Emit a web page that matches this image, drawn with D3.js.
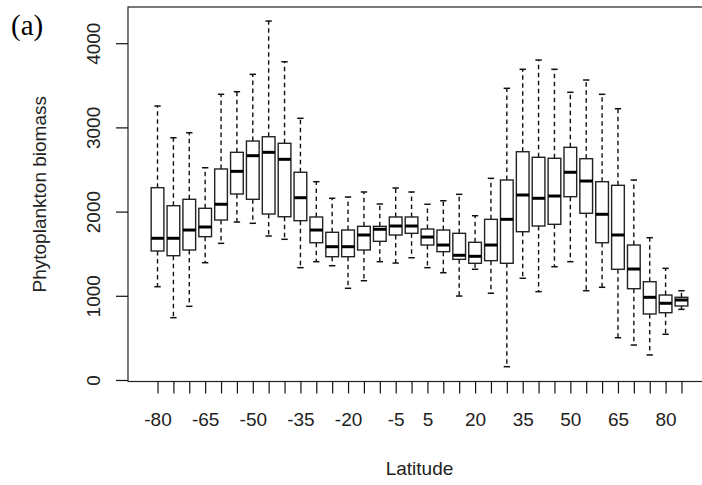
<!DOCTYPE html>
<html>
<head>
<meta charset="utf-8">
<script src="https://cdn.jsdelivr.net/npm/d3@7"></script>
<style>
  html, body { margin: 0; padding: 0; background: #fff; }
  svg { display: block; }
</style>
</head>
<body>
<script>
// ---- data ----
const latitudes = [-80,-75,-70,-65,-60,-55,-50,-45,-40,-35,-30,-25,-20,-15,-10,-5,0,5,10,15,20,25,30,35,40,45,50,55,60,65,70,75,80,85];
const whiskerHigh = [3254,2877,2937,2521,3393,3424,3630,4263,3780,3108,2355,2158,2173,2233,2090,2280,2233,2087,2129,2205,1951,2395,3464,3690,3800,3690,3417,3563,3393,3222,2375,1690,1326,1060];
const quartile3 = [2284,2070,2146,2039,2506,2704,2838,2889,2811,2467,1936,1754,1781,1825,1825,1936,1936,1793,1781,1742,1635,1908,2375,2711,2645,2633,2763,2628,2355,2312,1603,1167,1009,982];
const medians = [1683,1683,1781,1817,2087,2478,2664,2704,2621,2165,1781,1583,1583,1722,1790,1829,1829,1698,1603,1481,1469,1603,1908,2197,2158,2185,2467,2363,1968,1722,1318,982,911,950];
const quartile1 = [1532,1476,1544,1702,1900,2209,2146,1971,1939,1892,1630,1464,1464,1544,1647,1722,1742,1603,1524,1433,1386,1417,1386,1761,1829,1849,2177,1980,1630,1315,1084,784,799,879];
const whiskerLow = [1108,740,875,1393,1623,1876,1861,1710,1671,1334,1405,1357,1089,1179,1405,1389,1452,1334,1274,997,1315,1030,158,1208,1049,1345,1405,1060,1101,502,415,297,543,839];
const xTickLabels = ["-80","-65","-50","-35","-20","-5","5","20","35","50","65","80"];
const yTicks = [0,1000,2000,3000,4000];
const yDomain = [-18, 4430];

const W = 702, H = 485;
const plot = {left:128, right:711, top:7, bottom:381.5};

const svg = d3.select("body").append("svg").attr("width", W).attr("height", H);

const x = d3.scalePoint().domain(latitudes).range([plot.left, plot.right]).padding(1.86);
const y = d3.scaleLinear().domain(yDomain).range([plot.bottom, plot.top]);

const step = x.step();
const boxW = step * 0.8;
const capW = boxW * 0.5;
const font = "'Liberation Sans', Arial, sans-serif";

// frame
svg.append("rect")
  .attr("x", plot.left).attr("y", plot.top)
  .attr("width", plot.right - plot.left).attr("height", plot.bottom - plot.top)
  .attr("fill", "none").attr("stroke", "#222").attr("stroke-width", 1.2);

// boxes
const data = latitudes.map((lat, i) => ({
  lat, lo: whiskerLow[i], q1: quartile1[i], med: medians[i], q3: quartile3[i], hi: whiskerHigh[i]
}));

const g = svg.append("g");
const b = g.selectAll("g.box").data(data).join("g").attr("class", "box");

// dashed whiskers
b.append("line")
  .attr("x1", d => x(d.lat)).attr("x2", d => x(d.lat))
  .attr("y1", d => y(d.q3)).attr("y2", d => y(d.hi))
  .attr("stroke", "#111").attr("stroke-width", 1.4).attr("stroke-dasharray", "4.5,3.5");
b.append("line")
  .attr("x1", d => x(d.lat)).attr("x2", d => x(d.lat))
  .attr("y1", d => y(d.q1)).attr("y2", d => y(d.lo))
  .attr("stroke", "#111").attr("stroke-width", 1.4).attr("stroke-dasharray", "4.5,3.5");
// staples
b.append("line")
  .attr("x1", d => x(d.lat) - capW/2).attr("x2", d => x(d.lat) + capW/2)
  .attr("y1", d => y(d.hi)).attr("y2", d => y(d.hi))
  .attr("stroke", "#111").attr("stroke-width", 1.5);
b.append("line")
  .attr("x1", d => x(d.lat) - capW/2).attr("x2", d => x(d.lat) + capW/2)
  .attr("y1", d => y(d.lo)).attr("y2", d => y(d.lo))
  .attr("stroke", "#111").attr("stroke-width", 1.5);
// box
b.append("rect")
  .attr("x", d => x(d.lat) - boxW/2).attr("width", boxW)
  .attr("y", d => y(d.q3)).attr("height", d => y(d.q1) - y(d.q3))
  .attr("fill", "#fff").attr("stroke", "#222").attr("stroke-width", 1.4);
// median
b.append("line")
  .attr("x1", d => x(d.lat) - boxW/2).attr("x2", d => x(d.lat) + boxW/2)
  .attr("y1", d => y(d.med)).attr("y2", d => y(d.med))
  .attr("stroke", "#000").attr("stroke-width", 3);

// x axis
const xAxis = d3.axisBottom(x)
  .tickValues(latitudes)
  .tickSize(12)
  .tickPadding(0)
  .tickFormat(d => xTickLabels.includes(String(d)) ? String(d) : "");
const xg = svg.append("g").attr("transform", `translate(0,${plot.bottom})`).call(xAxis);
xg.select(".domain").remove();
xg.selectAll(".tick line").attr("stroke", "#111").attr("stroke-width", 1.2);
xg.selectAll(".tick text")
  .attr("y", 44).attr("dy", null)
  .attr("font-family", font).attr("font-size", 19).attr("fill", "#222");

// y axis
const yAxis = d3.axisLeft(y).tickValues(yTicks).tickSize(12).tickFormat(d3.format("d"));
const yg = svg.append("g").attr("transform", `translate(${plot.left},0)`).call(yAxis);
yg.select(".domain").remove();
yg.selectAll(".tick line").attr("stroke", "#111").attr("stroke-width", 1.2);
yg.selectAll(".tick text")
  .attr("x", null).attr("dy", null)
  .attr("text-anchor", "middle")
  .attr("transform", "translate(-28,0) rotate(-90)")
  .attr("font-family", font).attr("font-size", 19).attr("fill", "#222");

// axis titles
svg.append("text")
  .attr("x", (plot.left + plot.right) / 2).attr("y", 475)
  .attr("text-anchor", "middle")
  .attr("font-family", font).attr("font-size", 19).attr("fill", "#222")
  .text("Latitude");
svg.append("text")
  .attr("transform", `translate(46,${(plot.top + plot.bottom) / 2}) rotate(-90)`)
  .attr("text-anchor", "middle")
  .attr("font-family", font).attr("font-size", 19).attr("fill", "#222")
  .text("Phytoplankton biomass");

// panel label
svg.append("text")
  .attr("x", 11).attr("y", 35)
  .attr("font-family", "'Liberation Serif', 'Times New Roman', serif")
  .attr("font-size", 29).attr("fill", "#000")
  .text("(a)");
</script>
</body>
</html>
